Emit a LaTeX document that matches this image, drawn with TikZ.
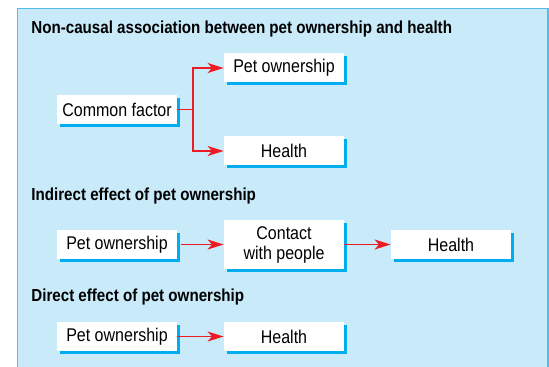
\documentclass[tikz,border=0pt]{standalone}
\usepackage{fontspec}
\setmainfont{Liberation Sans}[FakeStretch=0.87]
\usepackage{xcolor}
\usetikzlibrary{positioning,calc,arrows.meta,shadows}
\definecolor{panelblue}{RGB}{200,234,249}
\definecolor{edgeblue}{RGB}{80,190,235}
\definecolor{shadowcyan}{RGB}{0,174,239}
\definecolor{arrowred}{RGB}{237,28,36}

\begin{document}
\begin{tikzpicture}[x=0.5pt, y=-0.5pt,
    box/.style={rectangle, fill=white, minimum width=60pt, minimum height=14.5pt, inner sep=0pt,
        font=\fontsize{9.2}{10}\selectfont, align=center,
        drop shadow={shadow xshift=1.5pt, shadow yshift=-1.5pt, fill=shadowcyan, opacity=1}},
    heading/.style={anchor=west, inner sep=0pt, font=\fontsize{8.7}{10}\selectfont\bfseries},
    link/.style={draw=arrowred, line width=0.85pt},
    >={Stealth[length=8pt, width=5pt, inset=2.2pt]}]
    \useasboundingbox (0,0) rectangle (549,367);
    \clip (0,0) rectangle (549,367);
    \draw[fill=panelblue, draw=edgeblue, line width=0.8pt] (17.5,8.5) rectangle (548,380);

    % Non-causal
    \node[heading] (t1) at (31,29) {Non-causal association between pet ownership and health};
    \node[box] (cf) at (117,109.5) {Common factor};
    \node[box] (po1) at (284,68) {Pet ownership};
    \node[box] (h1) at (284,151) {Health};
    \coordinate (fork) at (193,109.5);
    \draw[link] (cf.east) -- (fork);
    \draw[link, ->] (fork) |- (po1.west);
    \draw[link, ->] (fork) |- (h1.west);

    % Indirect
    \node[heading] (t2) at (31,196) {Indirect effect of pet ownership};
    \node[box] (po2) at (117,244.5) {Pet ownership};
    \node[box, minimum height=24.5pt] (cwp) at (284,244.5) {Contact\\with people};
    \node[box] (h2) at (451,244.5) {Health};
    \draw[link, ->] ([xshift=2pt]po2.east) -- (cwp.west);
    \draw[link, ->] (cwp.east) -- (h2.west);

    % Direct
    \node[heading] (t3) at (31,297) {Direct effect of pet ownership};
    \node[box] (po3) at (117,336.5) {Pet ownership};
    \node[box] (h3) at (284,336.5) {Health};
    \draw[link, ->] (po3.east) -- (h3.west);
\end{tikzpicture}
\end{document}
